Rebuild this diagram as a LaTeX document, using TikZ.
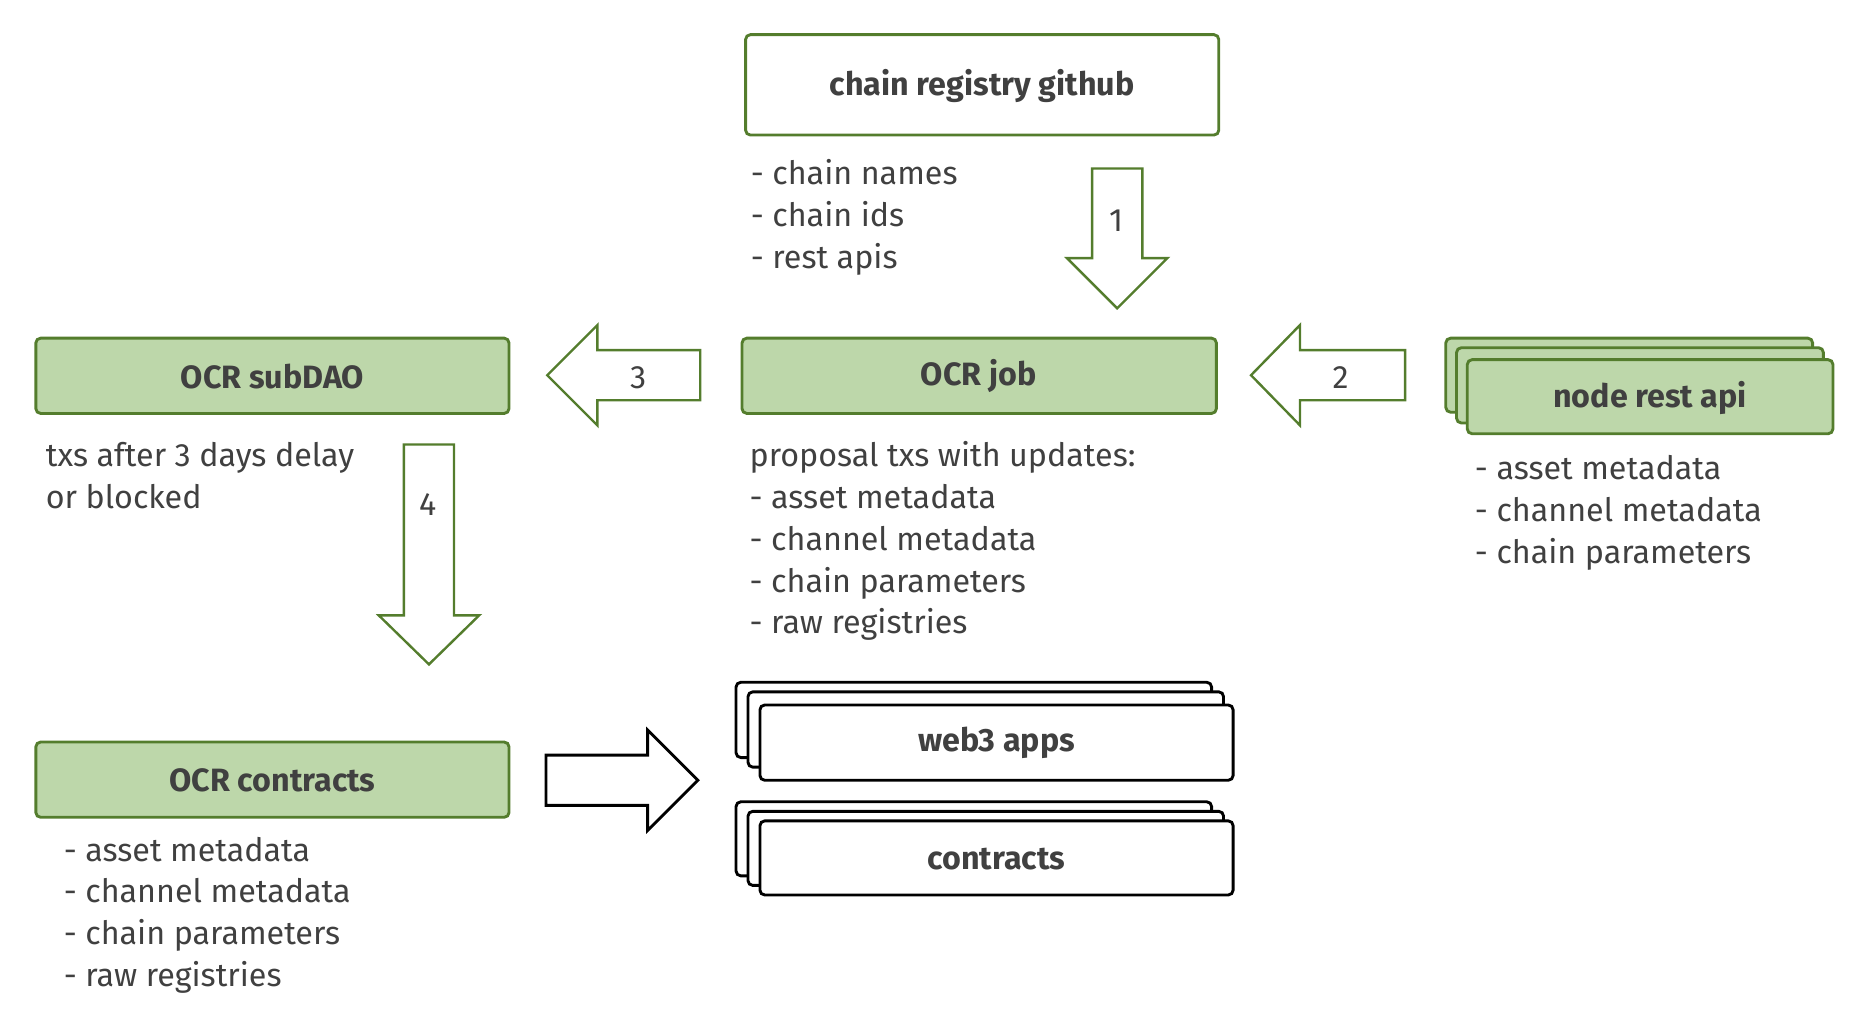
\documentclass[tikz,border=0pt]{standalone}
\usepackage{fontspec}
\setmainfont{Fira Sans}
\definecolor{gb}{RGB}{84,125,45}
\definecolor{gf}{RGB}{189,215,170}
\definecolor{tx}{RGB}{64,64,64}
\begin{document}
\begin{tikzpicture}[x=0.5pt,y=-0.5pt,
  box/.style={draw=gb,line width=1.2pt,rounded corners=2pt},
  gbox/.style={box,fill=gf},
  kbox/.style={draw=black,line width=1.2pt,fill=white,rounded corners=2pt},
  lab/.style={font=\fontsize{13.5}{16}\selectfont\bfseries,text=tx},
  txt/.style={font=\fontsize{13.5}{17.5}\selectfont,text=tx,anchor=north west,align=left,inner sep=0pt},
  num/.style={font=\fontsize{13.5}{16}\selectfont,text=tx},
  barrow/.style={draw=gb,line width=1pt,fill=white}]
\useasboundingbox (0,0) rectangle (1560,859);
% chain registry
\draw[box] (624,29) rectangle (1020,113);
\node[lab] (crg) at (822,72) {chain registry github};
\node[txt] (crgt) at (628,133) {- chain names\\- chain ids\\- rest apis};
% arrow 1
\draw[barrow] (914,141) -- (956,141) -- (956,216) -- (977,216) -- (935,258) -- (893,216) -- (914,216) -- cycle;
\node[num] (n1) at (934,185) {1};
% OCR subDAO
\draw[gbox] (30,283) rectangle (426,346);
\node[lab] (sub) at (228,315) {OCR subDAO};
\node[txt] (subt) at (38,370) {txs after 3 days delay\\or blocked};
% OCR job
\draw[gbox] (621,283) rectangle (1018,346);
\node[lab] (job) at (819,315) {OCR job};
\node[txt] (jobt) at (627,369) {proposal txs with updates:\\- asset metadata\\- channel metadata\\- chain parameters\\- raw registries};
% arrow 3
\draw[barrow] (586,293) -- (586,335) -- (500,335) -- (500,356) -- (458,314) -- (500,272) -- (500,293) -- cycle;
\node[num] (n3) at (534,316) {3};
% arrow 2
\draw[barrow] (1176,293) -- (1176,335) -- (1088,335) -- (1088,356) -- (1047,314) -- (1088,272) -- (1088,293) -- cycle;
\node[num] (n2) at (1122,316) {2};
% node rest api
\draw[gbox] (1210,283) rectangle (1517,345);
\draw[gbox] (1219,291) rectangle (1526,354);
\draw[gbox] (1228,301) rectangle (1534,363);
\node[lab] (nra) at (1381,333) {node rest api};
\node[txt] (nrat) at (1234,381) {- asset metadata\\- channel metadata\\- chain parameters};
% arrow 4
\draw[barrow] (338,372) -- (380,372) -- (380,515) -- (401,515) -- (359,556) -- (317,515) -- (338,515) -- cycle;
\node[num] (n4) at (358,422) {4};
% OCR contracts
\draw[gbox] (30,621) rectangle (426,684);
\node[lab] (con) at (228,653) {OCR contracts};
\node[txt] (cont) at (53,700) {- asset metadata\\- channel metadata\\- chain parameters\\- raw registries};
% black arrow
\draw[draw=black,line width=1.2pt,fill=white] (457,632) -- (542,632) -- (542,611) -- (584,653) -- (542,695) -- (542,674) -- (457,674) -- cycle;
% web3 apps
\draw[kbox] (616,571) rectangle (1014,634);
\draw[kbox] (626,579) rectangle (1024,642);
\draw[kbox] (636,590) rectangle (1032,653);
\node[lab] (w3) at (834,622) {web3 apps};
% contracts
\draw[kbox] (616,671) rectangle (1014,733);
\draw[kbox] (626,679) rectangle (1024,741);
\draw[kbox] (636,687) rectangle (1032,749);
\node[lab] (ct) at (834,719) {contracts};
\end{tikzpicture}
\end{document}
